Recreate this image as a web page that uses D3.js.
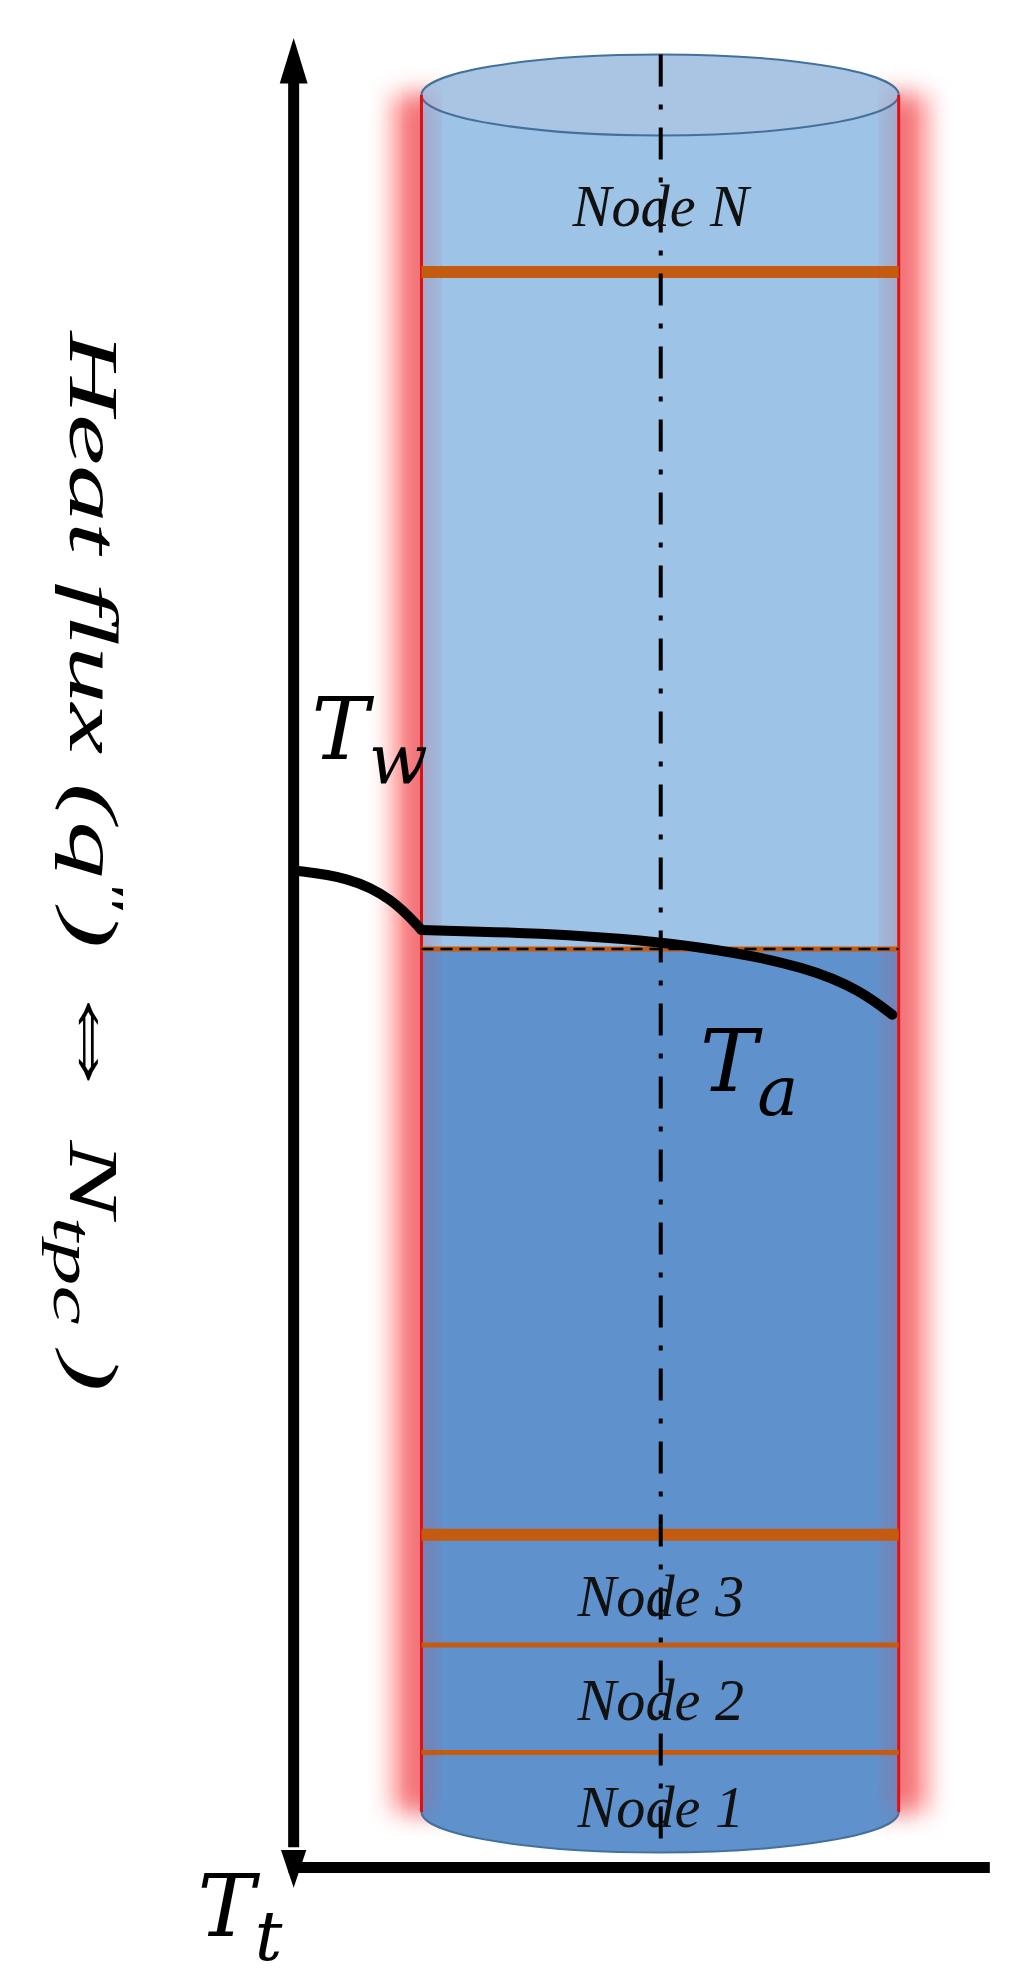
<!DOCTYPE html>
<html><head><meta charset="utf-8">
<script src="https://cdn.jsdelivr.net/npm/d3@7"></script>
<style>body{margin:0;background:#fff}</style></head>
<body><svg id="fig" width="1024" height="1984"></svg>
<script>
// positions in figure units (figure is 809 x 1568 units)
const boundaries = [215, 750, 1213, 1300, 1385];
const thickBoundaries = [215, 1213];
const nodeLabels = ['Node N', 'Node 3', 'Node 2', 'Node 1'];
const nodeLabelY = [165, 1263, 1345, 1430];
const wallCurve = [[232, 688], [275, 693], [310, 710], [333, 735]];
const airCurve = [[333, 735], [450, 738], [560, 748], [640, 765], [680, 783], [705, 802]];

const k = 1024 / 809;
const svg = d3.select('#fig');
const x = d3.scaleLinear().domain([0, 809]).range([0, 1024]);
const y = d3.scaleLinear().domain([0, 1568]).range([0, 1984]);

const defs = svg.append('defs');
const blur = defs.append('filter').attr('id', 'glow').attr('x', '-50%').attr('y', '-10%').attr('width', '200%').attr('height', '120%');
blur.append('feGaussianBlur').attr('stdDeviation', 12);
const blur2 = defs.append('filter').attr('id', 'glow2').attr('x', '-20%').attr('y', '-300%').attr('width', '140%').attr('height', '700%');
blur2.append('feGaussianBlur').attr('stdDeviation', 5);

const cx0 = 333, cx1 = 710, cTop = 75, cBot = 1432, ry = 32;

// red glow on walls
[cx0, cx1].forEach(xx => {
  svg.append('rect').attr('x', x(xx) - 28).attr('y', y(cTop)).attr('width', 56).attr('height', y(cBot) - y(cTop))
    .attr('fill', '#ff6f6f').attr('opacity', 0.9).attr('filter', 'url(#glow)');
});

// body
const bodyW = x(cx1) - x(cx0), mid = (cx0 + cx1) / 2;
svg.append('ellipse').attr('cx', x(mid)).attr('cy', y(cBot)).attr('rx', bodyW / 2).attr('ry', y(ry))
  .attr('fill', '#5f92cd').attr('stroke', '#41719c').attr('stroke-width', 2);
svg.append('rect').attr('x', x(cx0)).attr('y', y(cTop)).attr('width', bodyW).attr('height', y(750) - y(cTop)).attr('fill', '#9dc3e6');
svg.append('rect').attr('x', x(cx0)).attr('y', y(750)).attr('width', bodyW).attr('height', y(cBot) - y(750)).attr('fill', '#5f92cd');
svg.append('ellipse').attr('cx', x(mid)).attr('cy', y(cTop)).attr('rx', bodyW / 2).attr('ry', y(ry))
  .attr('fill', '#a9c5e3').attr('stroke', '#41719c').attr('stroke-width', 2);

// reddish inner shading near walls
[cx0, cx1].forEach(xx => {
  svg.append('rect').attr('x', x(xx) - 10).attr('y', y(cTop)).attr('width', 20).attr('height', y(cBot) - y(cTop))
    .attr('fill', '#c0506a').attr('opacity', 0.35).attr('filter', 'url(#glow)');
  svg.append('line').attr('x1', x(xx)).attr('x2', x(xx)).attr('y1', y(cTop)).attr('y2', y(cBot))
    .attr('stroke', '#e01010').attr('stroke-width', 3);
});

// node boundaries
boundaries.forEach(b => {
  const thick = thickBoundaries.includes(b);
  svg.append('line').attr('x1', x(cx0) - 12).attr('x2', x(cx1) + 12).attr('y1', y(b)).attr('y2', y(b))
    .attr('stroke', '#ff9a50').attr('stroke-width', thick ? 22 : 14).attr('opacity', 0.6).attr('filter', 'url(#glow2)');
  svg.append('line').attr('x1', x(cx0)).attr('x2', x(cx1)).attr('y1', y(b)).attr('y2', y(b))
    .attr('stroke', '#c55a11').attr('stroke-width', thick ? 12 : 5);
});

// centre line
svg.append('line').attr('x1', x(522)).attr('x2', x(522)).attr('y1', y(cTop - ry)).attr('y2', y(cBot + ry))
  .attr('stroke', '#000').attr('stroke-width', 4).attr('stroke-dasharray', '32,18,5,18');

// dashed reference line
svg.append('line').attr('x1', x(cx0)).attr('x2', x(cx1)).attr('y1', y(750)).attr('y2', y(750))
  .attr('stroke', '#000').attr('stroke-width', 2.5).attr('stroke-dasharray', '12,7');

// node labels
svg.selectAll('.node').data(nodeLabels).join('text')
  .attr('x', x(522)).attr('y', (d, i) => y(nodeLabelY[i] + 14))
  .attr('text-anchor', 'middle').attr('font-family', 'Liberation Serif').attr('font-style', 'italic')
  .attr('font-size', 46 * k).attr('fill', '#111').text(d => d);

// temperature curves
const line = d3.line().x(d => x(d[0])).y(d => y(d[1])).curve(d3.curveBasis);
svg.append('path').attr('d', line(wallCurve)).attr('fill', 'none').attr('stroke', '#000').attr('stroke-width', 10);
svg.append('path').attr('d', line(airCurve)).attr('fill', 'none').attr('stroke', '#000').attr('stroke-width', 10).attr('stroke-linecap', 'round');

// axes
svg.append('line').attr('x1', x(232)).attr('x2', x(232)).attr('y1', y(55)).attr('y2', y(1460)).attr('stroke', '#000').attr('stroke-width', 11);
svg.append('line').attr('x1', x(228)).attr('x2', x(782)).attr('y1', y(1476)).attr('y2', y(1476)).attr('stroke', '#000').attr('stroke-width', 11);
svg.append('path').attr('d', `M${x(232)},${y(30)} L${x(221)},${y(66)} L${x(243)},${y(66)} Z`).attr('fill', '#000');
svg.append('path').attr('d', `M${x(232)},${y(1492)} L${x(222)},${y(1462)} L${x(242)},${y(1462)} Z`).attr('fill', '#000');

// math labels
function sub(xx, yy, main, s, size) {
  const t = svg.append('text').attr('x', x(xx)).attr('y', y(yy)).attr('font-family', 'DejaVu Serif')
    .attr('font-style', 'italic').attr('font-size', size * k).attr('fill', '#000');
  t.append('tspan').text(main);
  t.append('tspan').attr('dy', size * k * 0.28).attr('font-size', size * k * 0.8).text(s);
}
sub(246, 600, 'T', 'w', 68);
sub(553, 862, 'T', 'a', 68);
sub(156, 1530, 'T', 't', 68);

// rotated axis title
const yt = svg.append('text').attr('transform', `translate(${x(55)},${y(262)}) rotate(90)`)
  .attr('font-family', 'Liberation Serif').attr('font-style', 'italic').attr('font-size', 70)
  .attr('fill', '#000').attr('textLength', 1060).attr('lengthAdjust', 'spacingAndGlyphs');
yt.append('tspan').text('Heat flux (q');
yt.append('tspan').attr('dy', -22).attr('font-size', 46).text('"');
yt.append('tspan').attr('dy', 22).text(') ');
yt.append('tspan').attr('font-style', 'normal').attr('font-size', 80).text('⇔ ');
yt.append('tspan').text('N');
yt.append('tspan').attr('dy', 16).attr('font-size', 54).text('tpc');
yt.append('tspan').attr('dy', -16).text(' )');
</script></body></html>
